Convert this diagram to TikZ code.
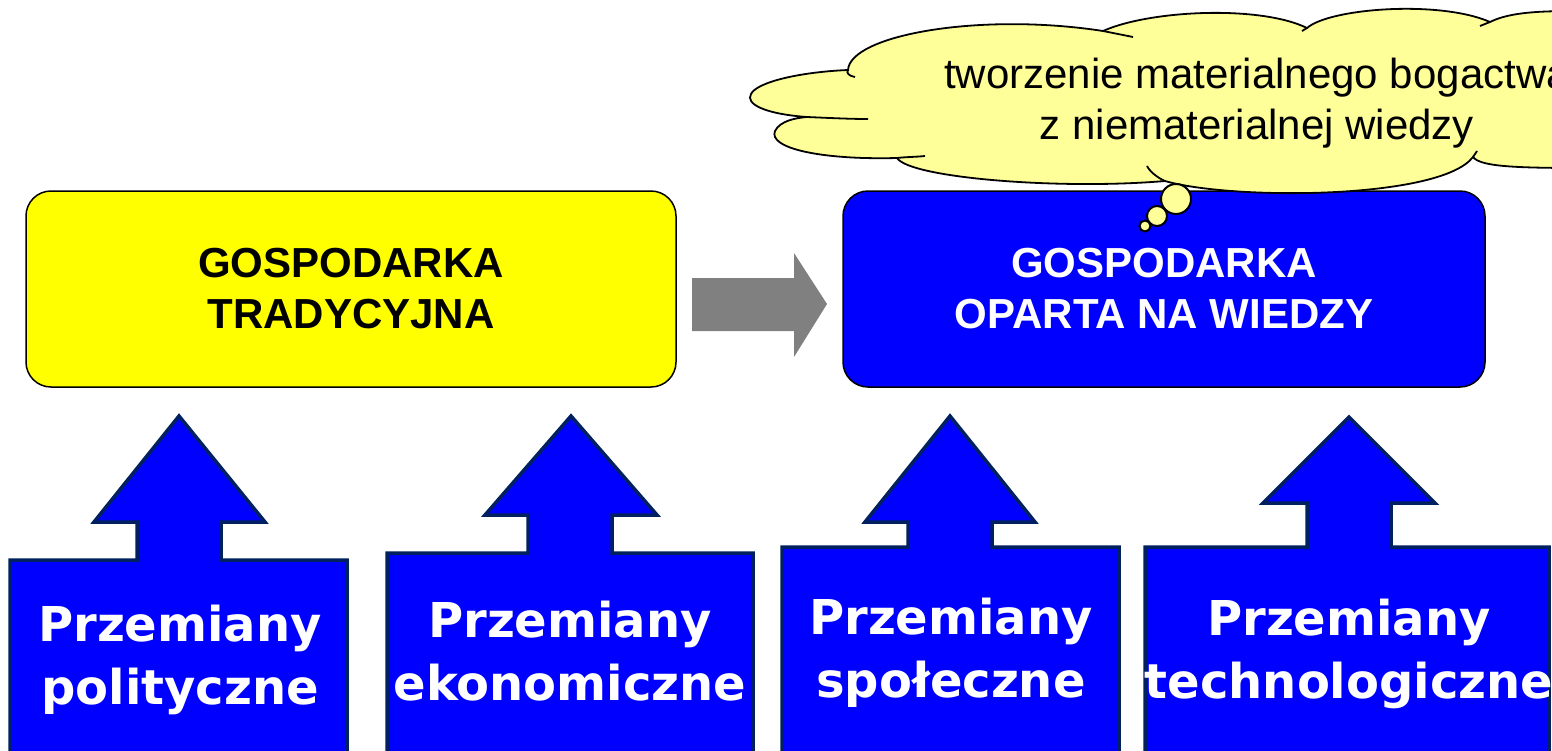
\documentclass[tikz,border=0pt]{standalone}
\usepackage{fontspec}
\newfontfamily\arialf{Liberation Sans}
\newfontfamily\verdf{DejaVu Sans}
\definecolor{ppyellow}{RGB}{255,255,0}
\definecolor{ppblue}{RGB}{0,0,255}
\definecolor{cloudyellow}{RGB}{255,255,153}
\definecolor{navyline}{RGB}{0,32,96}
\definecolor{arrowgray}{RGB}{128,128,128}
\begin{document}
\begin{tikzpicture}[x=1pt,y=-1pt,
  topbox/.style={draw=black, line width=1.5pt, rounded corners=25pt,
    minimum height=196pt, inner sep=0pt, align=center,
    font=\arialf\bfseries\fontsize{42}{51}\selectfont},
  changebox/.style={draw=navyline, fill=ppblue, line width=3.5pt, line join=miter},
  changelabel/.style={text=white, align=center, inner sep=0pt,
    font=\verdf\bfseries\fontsize{48}{63}\selectfont},
  cloudshape/.style={fill=cloudyellow, draw=black, line width=1.8pt},
  cloudtail/.style={draw=black, line width=1.8pt},
  bubble/.style={fill=cloudyellow, draw=black, line width=2pt},
  cloudtext/.style={inner sep=0pt, align=center,
    font=\arialf\fontsize{42}{51}\selectfont}
]
\useasboundingbox (0,0) rectangle (1552,750);
\clip (0,0) rectangle (1552,750);

% top boxes
\node[topbox, fill=ppyellow, minimum width=650pt] (trad) at (351,289)
  {GOSPODARKA\\TRADYCYJNA};
\node[topbox, fill=ppblue, text=white, minimum width=642pt] (know) at (1164,289)
  {GOSPODARKA\\OPARTA NA WIEDZY};

% grey block arrow between the two boxes
\fill[arrowgray] (692,278) -- (794,278) -- (794,253) -- (827,304)
  -- (794,357) -- (794,331) -- (692,331) -- cycle;

% up-arrow callouts
\path[changebox] (10,770) -- (10,560) -- (137,560) -- (137,522) -- (94,522)
  -- (179,416) -- (265,522) -- (221,522) -- (221,560) -- (347,560) -- (347,770) -- cycle;
\path[changebox] (387,770) -- (387,553) -- (528,553) -- (528,515) -- (485,515)
  -- (571,416) -- (657,515) -- (612,515) -- (612,553) -- (753,553) -- (753,770) -- cycle;
\path[changebox] (782,770) -- (782,547) -- (908,547) -- (908,522) -- (865,522)
  -- (950,416) -- (1035,522) -- (992,522) -- (992,547) -- (1119,547) -- (1119,770) -- cycle;
\path[changebox] (1145,770) -- (1145,547) -- (1307,547) -- (1307,503) -- (1263,503)
  -- (1349,417) -- (1435,503) -- (1391,503) -- (1391,547) -- (1549,547) -- (1549,770) -- cycle;

\node[changelabel] (pol) at (180,659.5) {Przemiany\\polityczne};
\node[changelabel] (eko) at (570,651) {Przemiany\\ekonomiczne};
\node[changelabel] (spo) at (951,652.5) {Przemiany\\społeczne};
\node[changelabel] (tech) at (1349,653.5) {Przemiany\\technologiczne};

% thought cloud
\path[cloudshape] (848,70)
  .. controls (850,35) and (980,12) .. (1103,31)
  .. controls (1150,10) and (1260,5) .. (1307,28)
  .. controls (1330,8) and (1440,0) .. (1490,22)
  .. controls (1510,12) and (1540,11) .. (1580,11)
  -- (1580,168)
  .. controls (1510,168) and (1480,166) .. (1473,157)
  .. controls (1440,200) and (1230,200) .. (1165,181)
  .. controls (1060,190) and (910,178) .. (897,158)
  .. controls (820,160) and (768,148) .. (775,131)
  .. controls (780,121) and (795,118) .. (807,117)
  .. controls (765,114) and (745,104) .. (751,94)
  .. controls (757,82) and (800,72) .. (848,70) -- cycle;
\draw[cloudtail] (848,70) .. controls (846,73) and (849,76) .. (855,77);
\draw[cloudtail] (1103,31) .. controls (1113,33) and (1123,35) .. (1133,37);
\draw[cloudtail] (1307,28) -- (1302,31);
\draw[cloudtail] (1490,22) -- (1480,26);
\draw[cloudtail] (1473,157) -- (1477,151);
\draw[cloudtail] (1165,181) .. controls (1158,178) and (1150,172) .. (1147,166);
\draw[cloudtail] (807,117) .. controls (830,118) and (850,119) .. (868,119);
\draw[cloudtail] (897,158) .. controls (905,157) and (915,157) .. (925,156);

\node[cloudtext] (idea) at (1257,103.6)
  {tworzenie materialnego bogactwa\\z niematerialnej wiedzy};

% thought bubbles
\path[bubble] (1176,199) circle[radius=15];
\path[bubble] (1157,216) circle[radius=10];
\path[bubble] (1145,226) circle[radius=5.5];
\end{tikzpicture}
\end{document}
